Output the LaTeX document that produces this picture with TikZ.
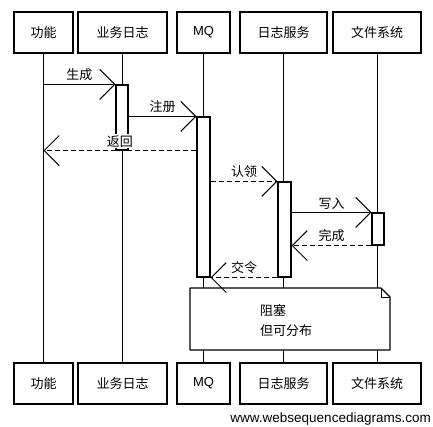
\documentclass[tikz,border=0pt]{standalone}
\usepackage{fontspec}
\setmainfont{Liberation Sans}
\newfontfamily\cjk{Noto Sans CJK SC}
\usetikzlibrary{arrows.meta}
\begin{document}
\begin{tikzpicture}[x=1pt,y=-1pt,
  actor/.style={draw, line width=1.1pt, fill=white, minimum height=41pt,
    inner sep=0pt, font=\fontsize{13}{15}\selectfont\cjk},
  latinactor/.style={actor, font=\fontsize{13}{15}\selectfont},
  lifeline/.style={line width=0.9pt},
  activation/.style={draw, line width=1.1pt, fill=white, minimum width=12pt, inner sep=0pt},
  msg/.style={line width=1pt, -{Straight Barb[length=15pt,width=30pt,line width=1pt]}},
  reply/.style={msg, dash pattern=on 5pt off 3pt},
  lbl/.style={above=2pt, inner sep=1pt, fill=white, font=\fontsize{13}{15}\selectfont\cjk},
  notebox/.style={draw, line width=1.1pt, fill=white, line join=round}]

\useasboundingbox (0,0) rectangle (433,427);

% participant boxes, top row
\node[actor, minimum width=59pt] (t1) at (43.5,32.5) {功能};
\node[actor, minimum width=89pt] (t2) at (122.5,32.5) {业务日志};
\node[latinactor, minimum width=53pt] (t3) at (203.5,32.5) {MQ};
\node[actor, minimum width=87pt] (t4) at (283.5,32.5) {日志服务};
\node[actor, minimum width=88pt] (t5) at (377,32.5) {文件系统};

% participant boxes, bottom row
\node[actor, minimum width=59pt] (b1) at (43.5,383.5) {功能};
\node[actor, minimum width=89pt] (b2) at (122.5,383.5) {业务日志};
\node[latinactor, minimum width=53pt] (b3) at (203.5,383.5) {MQ};
\node[actor, minimum width=87pt] (b4) at (283.5,383.5) {日志服务};
\node[actor, minimum width=88pt] (b5) at (377,383.5) {文件系统};

% lifelines
\foreach \i in {1,...,5} \draw[lifeline] (t\i.south) -- (b\i.north);

% activation bars
\node[activation, minimum height=65pt] (a2) at (122,117.5) {};
\node[activation, minimum height=160pt, minimum width=13pt] (a3) at (203.5,197) {};
\node[activation, minimum height=95pt, minimum width=13pt] (a4) at (284.5,229.5) {};
\node[activation, minimum height=32pt] (a5) at (378,229) {};

% note over MQ, 日志服务 and 文件系统
\draw[notebox] (190,288) -- (381,288) -- (390,297) -- (390,350) -- (190,350) -- cycle;
\draw[line width=0.8pt] (381,288) -- (381,297) -- (390,297);
\node[anchor=west, align=left, inner sep=0pt, font=\fontsize{13}{20}\selectfont\cjk]
  (note) at (260,321) {阻塞\\但可分布};

% free message ends on the lifeline of 功能
\coordinate (f1) at (t1.south |- a2.north);
\coordinate (f2) at (t1.south |- a2.south);

% messages
\draw[msg] (f1) -- node[lbl] {生成} (a2.north west);
\draw[msg] (a2.east |- a3.north) -- node[lbl] {注册} (a3.north west);
\draw[reply] (a3.west |- a2.south) -- node[lbl] {返回} (f2);
\draw[reply] (a3.east |- a4.north) -- node[lbl] {认领} (a4.north west);
\draw[msg] (a4.east |- a5.north) -- node[lbl] {写入} (a5.north west);
\draw[reply] (a5.south west) -- node[lbl] {完成} (a4.east |- a5.south);
\draw[reply] (a4.south west) -- node[lbl] {交令} (a3.south east);

% footer
\node[anchor=base east, inner sep=0pt, font=\fontsize{13.5}{15}\selectfont]
  (site) at (431,422) {www.websequencediagrams.com};
\end{tikzpicture}
\end{document}
